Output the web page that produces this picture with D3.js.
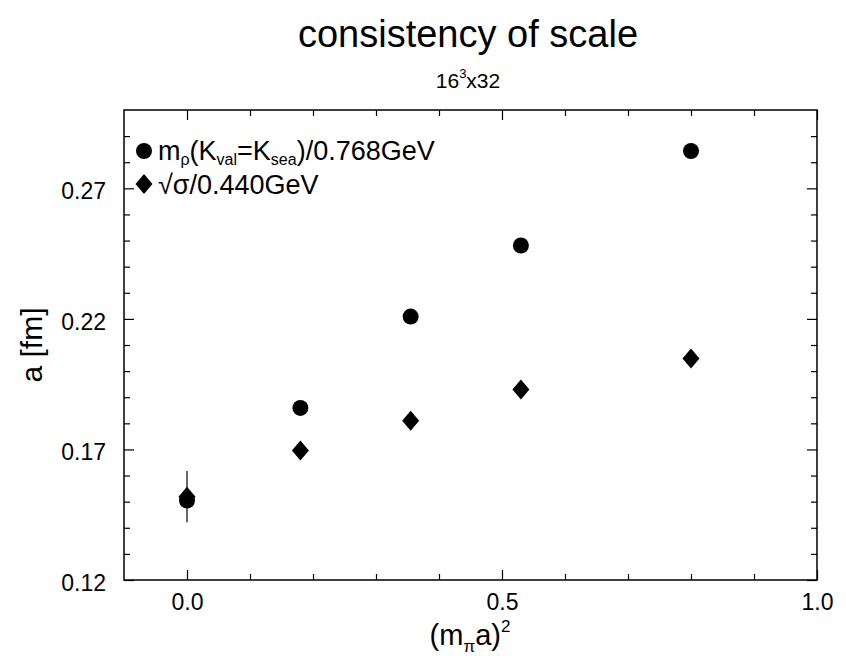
<!DOCTYPE html>
<html>
<head>
<meta charset="utf-8">
<script src="https://cdn.jsdelivr.net/npm/d3@7"></script>
<style>
  body { margin: 0; background: #fff; }
  svg { display: block; }
  text { font-family: "Liberation Sans", Arial, Helvetica, sans-serif; fill: #000; }
</style>
</head>
<body>
<svg id="chart" width="846" height="656"></svg>
<script>
// ---- data ----
const xValues = [0.0, 0.18, 0.355, 0.53, 0.80];
const rhoValues = [0.1504, 0.1859, 0.2209, 0.2481, 0.2843];
const sigmaValues = [0.1519, 0.1696, 0.1810, 0.1930, 0.2048];
const sigmaErrors = [0.0098, 0, 0, 0, 0];
const xMajorTicks = [0.0, 0.5, 1.0];
const xMinorTicks = [0.1, 0.2, 0.3, 0.4, 0.6, 0.7, 0.8, 0.9];
const yMajorTicks = [0.12, 0.17, 0.22, 0.27];
const yMinorTicks = [0.13, 0.14, 0.15, 0.16, 0.18, 0.19, 0.20, 0.21, 0.23, 0.24, 0.25, 0.26, 0.28, 0.29];

const svg = d3.select("#chart");
const L = 124, R = 817, T = 110, B = 580;
const x = d3.scaleLinear().domain([-0.1, 1.0]).range([L, R]);
const y = d3.scaleLinear().domain([0.12, 0.30]).range([B, T]);

// title
svg.append("text").attr("x", 468).attr("y", 47).attr("text-anchor", "middle")
  .style("font-size", "38px").text("consistency of scale");
const sub = svg.append("text").attr("x", 468).attr("y", 88).attr("text-anchor", "middle")
  .style("font-size", "21px");
sub.append("tspan").text("16");
sub.append("tspan").attr("dy", -10).style("font-size", "13px").text("3");
sub.append("tspan").attr("dy", 10).text("x32");

// axes (inward ticks on all sides)
const g = svg.append("g");
function addAxis(axisGen, transform) {
  const a = g.append("g").attr("transform", transform).call(axisGen);
  a.select(".domain").remove();
  a.selectAll("line").attr("stroke", "#000").attr("stroke-width", 1.2);
  return a;
}
const fmtX = d3.format(".1f"), fmtY = d3.format(".2f");
// bottom
const xb = addAxis(d3.axisBottom(x).tickValues(xMajorTicks).tickSize(-10).tickPadding(14).tickFormat(fmtX), `translate(0,${B})`);
xb.selectAll("text").style("font-size", "23px");
addAxis(d3.axisBottom(x).tickValues(xMinorTicks).tickSize(-6).tickFormat(""), `translate(0,${B})`);
// top
addAxis(d3.axisTop(x).tickValues(xMajorTicks).tickSize(-10).tickFormat(""), `translate(0,${T})`);
addAxis(d3.axisTop(x).tickValues(xMinorTicks).tickSize(-6).tickFormat(""), `translate(0,${T})`);
// left
const yl = addAxis(d3.axisLeft(y).tickValues(yMajorTicks).tickSize(-10).tickPadding(18).tickFormat(fmtY), `translate(${L},0)`);
yl.selectAll("text").style("font-size", "23px").attr("dy", "0.45em");
addAxis(d3.axisLeft(y).tickValues(yMinorTicks).tickSize(-6).tickFormat(""), `translate(${L},0)`);
// right
addAxis(d3.axisRight(y).tickValues(yMajorTicks).tickSize(-10).tickFormat(""), `translate(${R},0)`);
addAxis(d3.axisRight(y).tickValues(yMinorTicks).tickSize(-6).tickFormat(""), `translate(${R},0)`);

// frame
svg.append("rect").attr("x", L).attr("y", T).attr("width", R - L).attr("height", B - T)
  .attr("fill", "none").attr("stroke", "#000").attr("stroke-width", 1.5);

// axis labels
const xl = svg.append("text").attr("x", 470).attr("y", 645).attr("text-anchor", "middle")
  .style("font-size", "29px");
xl.append("tspan").text("(m");
xl.append("tspan").attr("dy", 7).style("font-size", "17px").text("π");
xl.append("tspan").attr("dy", -7).text("a)");
xl.append("tspan").attr("dy", -13).style("font-size", "17px").text("2");

svg.append("text").attr("transform", "translate(42,345) rotate(-90)").attr("text-anchor", "middle")
  .style("font-size", "30px").text("a [fm]");

// data
const pts = xValues.map((v, i) => ({ x: v, rho: rhoValues[i], sig: sigmaValues[i], err: sigmaErrors[i] }));
const plot = svg.append("g");
plot.selectAll("line.err").data(pts.filter(d => d.err > 0)).enter().append("line")
  .attr("x1", d => x(d.x)).attr("x2", d => x(d.x))
  .attr("y1", d => y(d.sig - d.err)).attr("y2", d => y(d.sig + d.err))
  .attr("stroke", "#000").attr("stroke-width", 1.2);

const diamond = (cx, cy) => `M${cx},${cy - 10}L${cx + 8.5},${cy}L${cx},${cy + 10}L${cx - 8.5},${cy}Z`;
plot.selectAll("path.sig").data(pts).enter().append("path")
  .attr("d", d => diamond(x(d.x), y(d.sig))).attr("fill", "#000");
plot.selectAll("circle.rho").data(pts).enter().append("circle")
  .attr("cx", d => x(d.x)).attr("cy", d => y(d.rho)).attr("r", 8).attr("fill", "#000");

// legend
const lg = svg.append("g");
lg.append("circle").attr("cx", 144).attr("cy", 151).attr("r", 8).attr("fill", "#000");
const t1 = lg.append("text").attr("x", 158).attr("y", 160).style("font-size", "27px");
t1.append("tspan").text("m");
t1.append("tspan").attr("dy", 5).style("font-size", "16px").text("ρ");
t1.append("tspan").attr("dy", -5).text("(K");
t1.append("tspan").attr("dy", 5).style("font-size", "16px").text("val");
t1.append("tspan").attr("dy", -5).text("=K");
t1.append("tspan").attr("dy", 5).style("font-size", "16px").text("sea");
t1.append("tspan").attr("dy", -5).text(")/0.768GeV");
lg.append("path").attr("d", diamond(144, 184)).attr("fill", "#000");
lg.append("text").attr("x", 158).attr("y", 194).style("font-size", "27px").text("√σ/0.440GeV");
</script>
</body>
</html>
